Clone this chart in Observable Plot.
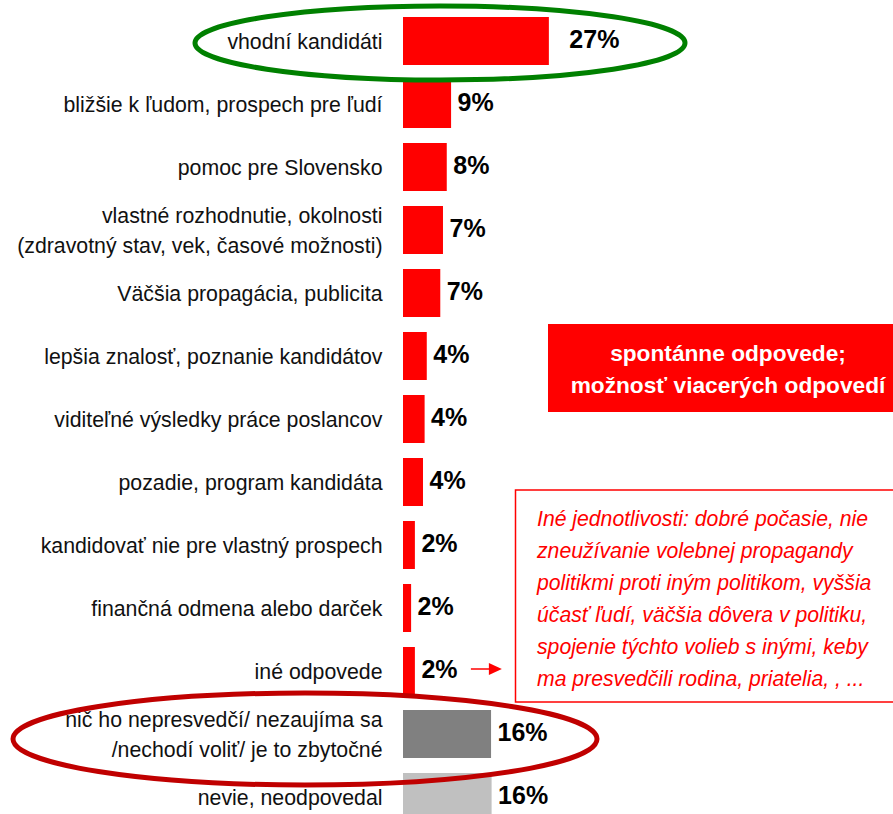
<!DOCTYPE html>
<html>
<head>
<meta charset="utf-8">
<script src="https://cdn.jsdelivr.net/npm/d3@7"></script>
<script src="https://cdn.jsdelivr.net/npm/@observablehq/plot@0.6"></script>
<style>
  html, body { margin: 0; padding: 0; background: #fff; overflow: hidden; }
  #chart svg { display: block; }
</style>
</head>
<body>
<div id="chart"></div>
<script>
// ---- data ----
const categories = [
  "vhodní kandidáti",
  "bližšie k ľudom, prospech pre ľudí",
  "pomoc pre Slovensko",
  "vlastné rozhodnutie, okolnosti\n(zdravotný stav, vek, časové možnosti)",
  "Väčšia propagácia, publicita",
  "lepšia znalosť, poznanie kandidátov",
  "viditeľné výsledky práce poslancov",
  "pozadie, program kandidáta",
  "kandidovať nie pre vlastný prospech",
  "finančná odmena alebo darček",
  "iné odpovede",
  "nič ho nepresvedčí/ nezaujíma sa\n/nechodí voliť/ je to zbytočné",
  "nevie, neodpovedal"
];
const values = [27, 8.9, 8.1, 7.4, 6.9, 4.4, 4.0, 3.7, 2.2, 1.5, 2.2, 16.3, 16.4];
const groups = ["reason","reason","reason","reason","reason","reason","reason","reason","reason","reason","reason","none","dk"];
const boxTitle = ["spontánne odpovede;", "možnosť viacerých odpovedí"];
const noteLines = [
  "Iné jednotlivosti: dobré počasie, nie",
  "zneužívanie volebnej propagandy",
  "politikmi proti iným politikom, vyššia",
  "účasť ľudí, väčšia dôvera v politiku,",
  "spojenie týchto volieb s inými, keby",
  "ma presvedčili rodina, priatelia, , ..."
];

const data = categories.map((c, i) => ({cat: c, value: values[i], group: groups[i], label: Math.round(values[i]) + "%"}));
const FONT = "'Liberation Sans', Arial, sans-serif";

const chart = Plot.plot({
  width: 893,
  height: 814,
  marginLeft: 403,
  marginRight: 0,
  marginTop: 0,
  marginBottom: 0,
  style: {fontFamily: FONT, background: "#fff", overflow: "hidden"},
  x: {domain: [0, 90.7], axis: null},
  y: {domain: categories, range: [14, 823], paddingInner: 0.243, paddingOuter: 0, axis: null},
  color: {domain: ["reason", "none", "dk"], range: ["#ff0000", "#808080", "#c0c0c0"]},
  marks: [
    Plot.barX(data, {x: "value", y: "cat", fill: "group"}),
    Plot.text(data, {x: 0, y: "cat", text: "cat", textAnchor: "end", dx: -21, dy: -2, fontSize: 21.3, lineHeight: 1.4, fill: "#111"}),
    Plot.text(data.slice(0, 1), {x: "value", y: "cat", text: "label", textAnchor: "start", dx: 20, dy: -2, fontSize: 25, fontWeight: "bold", fill: "#000"}),
    Plot.text(data.slice(1), {x: "value", y: "cat", text: "label", textAnchor: "start", dx: 6, dy: -2, fontSize: 25, fontWeight: "bold", fill: "#000"})
  ]
});
document.getElementById("chart").appendChild(chart);

// ---- annotations positioned from the chart's scales ----
const xs = chart.scale("x"), ys = chart.scale("y");
const bw = ys.bandwidth;
const rowC = (i) => ys.apply(categories[i]) + bw / 2;
const svg = d3.select(chart);

// red filled info box
const g1 = svg.append("g");
g1.append("rect").attr("x", 548).attr("y", rowC(5) - 32).attr("width", 360).attr("height", 88).attr("fill", "#ff0000");
g1.selectAll("text").data(boxTitle).join("text")
  .attr("x", 728).attr("y", (d, i) => rowC(5) - 1 + i * 32)
  .attr("text-anchor", "middle").attr("dominant-baseline", "middle")
  .attr("fill", "#fff").attr("font-weight", "bold").attr("font-size", 22.7)
  .attr("font-family", FONT).text(d => d);

// outlined note box
const g2 = svg.append("g");
g2.append("rect").attr("x", 515.5).attr("y", rowC(8) - 55).attr("width", 390).attr("height", 212)
  .attr("fill", "#fff").attr("stroke", "#ff0000").attr("stroke-width", 1.5);
g2.selectAll("text").data(noteLines).join("text")
  .attr("x", 537).attr("y", (d, i) => rowC(8) - 25 + i * 32)
  .attr("text-anchor", "start").attr("dominant-baseline", "middle")
  .attr("fill", "#ff0000").attr("font-style", "italic").attr("font-size", 21.2)
  .attr("font-family", FONT).text(d => d);

// arrow from "iné odpovede" to note box
const ay = rowC(10) - 2;
const ax0 = xs.apply(values[10]) + 56;
svg.append("line").attr("x1", ax0).attr("x2", ax0 + 20).attr("y1", ay).attr("y2", ay)
  .attr("stroke", "#ff0000").attr("stroke-width", 1.5);
svg.append("path").attr("d", `M${ax0 + 18},${ay - 6}L${ax0 + 31},${ay}L${ax0 + 18},${ay + 6}Z`).attr("fill", "#ff0000");

// highlight ellipses
svg.append("ellipse").attr("cx", 440).attr("cy", rowC(0) + 2).attr("rx", 245).attr("ry", 37)
  .attr("fill", "none").attr("stroke", "#008000").attr("stroke-width", 5);
svg.append("ellipse").attr("cx", 305).attr("cy", rowC(11) + 5).attr("rx", 292).attr("ry", 46)
  .attr("fill", "none").attr("stroke", "#c00000").attr("stroke-width", 5);
</script>
</body>
</html>
